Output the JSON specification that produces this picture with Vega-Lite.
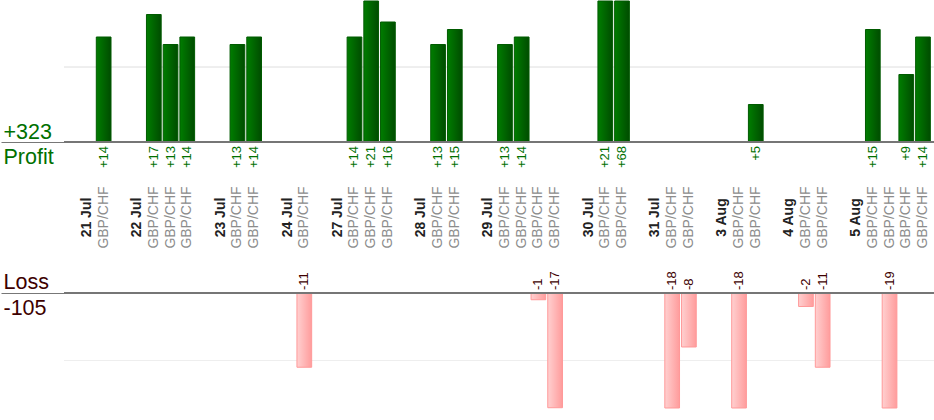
{
  "$schema": "https://vega.github.io/schema/vega-lite/v6.json",
  "description": "Profit and loss per GBP/CHF trade, 21 Jul to 5 Aug.",
  "padding": 0,
  "spacing": 0,
  "bounds": "flush",
  "config": {
    "view": {"stroke": null},
    "font": "Liberation Sans"
  },
  "datasets": {
    "days": [
      {"slot": 0, "day": "21 Jul"},
      {"slot": 3, "day": "22 Jul"},
      {"slot": 8, "day": "23 Jul"},
      {"slot": 12, "day": "24 Jul"},
      {"slot": 15, "day": "27 Jul"},
      {"slot": 20, "day": "28 Jul"},
      {"slot": 24, "day": "29 Jul"},
      {"slot": 30, "day": "30 Jul"},
      {"slot": 34, "day": "31 Jul"},
      {"slot": 38, "day": "3 Aug"},
      {"slot": 42, "day": "4 Aug"},
      {"slot": 46, "day": "5 Aug"}
    ],
    "trades": [
      {"slot": 1, "day": "21 Jul", "pair": "GBP/CHF", "pnl": 14},
      {"slot": 4, "day": "22 Jul", "pair": "GBP/CHF", "pnl": 17},
      {"slot": 5, "day": "22 Jul", "pair": "GBP/CHF", "pnl": 13},
      {"slot": 6, "day": "22 Jul", "pair": "GBP/CHF", "pnl": 14},
      {"slot": 9, "day": "23 Jul", "pair": "GBP/CHF", "pnl": 13},
      {"slot": 10, "day": "23 Jul", "pair": "GBP/CHF", "pnl": 14},
      {"slot": 13, "day": "24 Jul", "pair": "GBP/CHF", "pnl": -11},
      {"slot": 16, "day": "27 Jul", "pair": "GBP/CHF", "pnl": 14},
      {"slot": 17, "day": "27 Jul", "pair": "GBP/CHF", "pnl": 21},
      {"slot": 18, "day": "27 Jul", "pair": "GBP/CHF", "pnl": 16},
      {"slot": 21, "day": "28 Jul", "pair": "GBP/CHF", "pnl": 13},
      {"slot": 22, "day": "28 Jul", "pair": "GBP/CHF", "pnl": 15},
      {"slot": 25, "day": "29 Jul", "pair": "GBP/CHF", "pnl": 13},
      {"slot": 26, "day": "29 Jul", "pair": "GBP/CHF", "pnl": 14},
      {"slot": 27, "day": "29 Jul", "pair": "GBP/CHF", "pnl": -1},
      {"slot": 28, "day": "29 Jul", "pair": "GBP/CHF", "pnl": -17},
      {"slot": 31, "day": "30 Jul", "pair": "GBP/CHF", "pnl": 21},
      {"slot": 32, "day": "30 Jul", "pair": "GBP/CHF", "pnl": 68},
      {"slot": 35, "day": "31 Jul", "pair": "GBP/CHF", "pnl": -18},
      {"slot": 36, "day": "31 Jul", "pair": "GBP/CHF", "pnl": -8},
      {"slot": 39, "day": "3 Aug", "pair": "GBP/CHF", "pnl": -18},
      {"slot": 40, "day": "3 Aug", "pair": "GBP/CHF", "pnl": 5},
      {"slot": 43, "day": "4 Aug", "pair": "GBP/CHF", "pnl": -2},
      {"slot": 44, "day": "4 Aug", "pair": "GBP/CHF", "pnl": -11},
      {"slot": 47, "day": "5 Aug", "pair": "GBP/CHF", "pnl": 15},
      {"slot": 48, "day": "5 Aug", "pair": "GBP/CHF", "pnl": -19},
      {"slot": 49, "day": "5 Aug", "pair": "GBP/CHF", "pnl": 9},
      {"slot": 50, "day": "5 Aug", "pair": "GBP/CHF", "pnl": 14}
    ]
  },
  "vconcat": [
    {
      "width": 871,
      "height": 141,
      "data": {"name": "trades"},
      "layer": [
        {
          "mark": {"type": "rule", "color": "#eeeeee"},
          "encoding": {"y": {"datum": 10, "type": "quantitative"}}
        },
        {
          "transform": [{"filter": "datum.pnl > 0"}],
          "mark": {
            "type": "bar",
            "fill": {
              "gradient": "linear",
              "x1": 0, "y1": 0, "x2": 1, "y2": 0,
              "stops": [
                {"offset": 0, "color": "#007d00"},
                {"offset": 1, "color": "#004c00"}
              ]
            },
            "stroke": "#005a00",
            "strokeWidth": 1
          },
          "encoding": {
            "x": {
              "field": "slot",
              "type": "ordinal",
              "scale": {
                "type": "band",
                "domain": [0,1,2,3,4,5,6,7,8,9,10,11,12,13,14,15,16,17,18,19,20,21,22,23,24,25,26,27,28,29,30,31,32,33,34,35,36,37,38,39,40,41,42,43,44,45,46,47,48,49,50],
                "paddingInner": 0.12,
                "paddingOuter": 0.605,
                "align": 0.77
              },
              "axis": null
            },
            "y": {
              "field": "pnl",
              "type": "quantitative",
              "scale": {"domain": [0, 18.8], "nice": false, "clamp": true},
              "axis": {
                "values": [0],
                "labels": false,
                "domain": false,
                "grid": false,
                "ticks": true,
                "tickSize": 63,
                "tickColor": "#777777",
                "tickWidth": 1,
                "title": ["+323", "Profit"],
                "titleAngle": 0,
                "titleAlign": "left",
                "titleBaseline": "alphabetic",
                "titleX": -61,
                "titleY": 137,
                "titleFontSize": 21.5,
                "titleFontWeight": "normal",
                "titleColor": "#007000",
                "titleLineHeight": 25
              }
            }
          }
        },
        {
          "mark": {"type": "rule", "color": "#777777"},
          "encoding": {"y": {"datum": 0, "type": "quantitative"}}
        },
        {
          "transform": [{"filter": "datum.pnl > 0"}],
          "mark": {
            "type": "text",
            "angle": 270,
            "align": "right",
            "baseline": "middle",
            "dx": -4,
            "fontSize": 13,
            "color": "#007000"
          },
          "encoding": {
            "x": {"field": "slot", "type": "ordinal", "bandPosition": 0.5, "axis": null},
            "y": {"datum": 0, "type": "quantitative"},
            "text": {"field": "pnl", "type": "quantitative", "format": "+d"}
          }
        }
      ]
    },
    {
      "width": 871,
      "height": 151,
      "layer": [
        {
          "data": {"name": "days"},
          "mark": {
            "type": "text",
            "angle": 270,
            "align": "center",
            "baseline": "middle",
            "fontSize": 14,
            "fontWeight": "bold",
            "color": "#222222"
          },
          "encoding": {
            "x": {
              "field": "slot",
              "type": "ordinal",
              "bandPosition": 0.5,
              "scale": {
                "type": "band",
                "domain": [0,1,2,3,4,5,6,7,8,9,10,11,12,13,14,15,16,17,18,19,20,21,22,23,24,25,26,27,28,29,30,31,32,33,34,35,36,37,38,39,40,41,42,43,44,45,46,47,48,49,50],
                "paddingInner": 0.12,
                "paddingOuter": 0.605,
                "align": 0.77
              },
              "axis": null
            },
            "text": {"field": "day"}
          }
        },
        {
          "data": {"name": "trades"},
          "mark": {
            "type": "text",
            "angle": 270,
            "align": "center",
            "baseline": "middle",
            "fontSize": 14,
            "color": "#8c8c8c"
          },
          "encoding": {
            "x": {"field": "slot", "type": "ordinal", "bandPosition": 0.5, "axis": null},
            "text": {"field": "pair"}
          }
        }
      ]
    },
    {
      "width": 871,
      "height": 115,
      "data": {"name": "trades"},
      "layer": [
        {
          "mark": {"type": "rule", "color": "#eeeeee"},
          "encoding": {"y": {"datum": -10, "type": "quantitative"}}
        },
        {
          "transform": [{"filter": "datum.pnl < 0"}],
          "mark": {
            "type": "bar",
            "fill": {
              "gradient": "linear",
              "x1": 0, "y1": 0, "x2": 1, "y2": 0,
              "stops": [
                {"offset": 0, "color": "#ffd0d0"},
                {"offset": 1, "color": "#ff9c9c"}
              ]
            },
            "stroke": "#ff9999",
            "strokeWidth": 1
          },
          "encoding": {
            "x": {
              "field": "slot",
              "type": "ordinal",
              "scale": {
                "type": "band",
                "domain": [0,1,2,3,4,5,6,7,8,9,10,11,12,13,14,15,16,17,18,19,20,21,22,23,24,25,26,27,28,29,30,31,32,33,34,35,36,37,38,39,40,41,42,43,44,45,46,47,48,49,50],
                "paddingInner": 0.12,
                "paddingOuter": 0.605,
                "align": 0.77
              },
              "axis": null
            },
            "y": {
              "field": "pnl",
              "type": "quantitative",
              "scale": {"domain": [-17.04, 0], "nice": false, "clamp": true},
              "axis": {
                "values": [0],
                "labels": false,
                "domain": false,
                "grid": false,
                "ticks": true,
                "tickSize": 63,
                "tickColor": "#777777",
                "tickWidth": 1,
                "title": ["Loss", "-105"],
                "titleAngle": 0,
                "titleAlign": "left",
                "titleBaseline": "alphabetic",
                "titleX": -61,
                "titleY": -5,
                "titleFontSize": 21.5,
                "titleFontWeight": "normal",
                "titleColor": "#3d0000",
                "titleLineHeight": 26
              }
            }
          }
        },
        {
          "mark": {"type": "rule", "color": "#777777"},
          "encoding": {"y": {"datum": 0, "type": "quantitative"}}
        },
        {
          "transform": [{"filter": "datum.pnl < 0"}],
          "mark": {
            "type": "text",
            "angle": 270,
            "align": "left",
            "baseline": "middle",
            "dx": 3,
            "fontSize": 13,
            "color": "#3d0000"
          },
          "encoding": {
            "x": {"field": "slot", "type": "ordinal", "bandPosition": 0.5, "axis": null},
            "y": {"datum": 0, "type": "quantitative"},
            "text": {"field": "pnl", "type": "nominal"}
          }
        }
      ]
    }
  ]
}
